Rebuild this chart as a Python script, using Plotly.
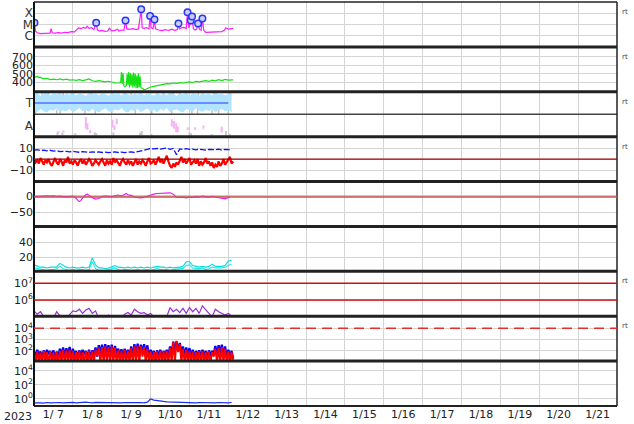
import plotly.graph_objects as go

# ---------------- data ----------------
DAY_LABELS = ["1/ 7", "1/ 8", "1/ 9", "1/10", "1/11", "1/12", "1/13", "1/14",
              "1/15", "1/16", "1/17", "1/18", "1/19", "1/20", "1/21"]
YEAR_LABEL = "2023"

HOURS_2H = list(range(0, 123, 2))   # 62 samples, hours after 1/7 00:00
HOURS_1H = list(range(0, 124))      # 124 samples

# panel 1: X-ray flux (units of 1e-6 W/m2) and flare peaks
xray_hours = [0, 0.3, 0.9, 2, 4, 6, 8, 10, 10.6, 11.2,
              13, 15, 17, 19, 21, 23, 25, 26.5, 27.5, 29,
              30.5, 32, 32.8, 34, 35.5, 37, 38.4, 39.2, 40.5, 42,
              44, 45.5, 46.5, 48, 50, 51.5, 52.5, 54, 55.5, 56.5,
              57.3, 59, 61, 63, 64.5, 66.2, 66.8, 68, 69.5, 71,
              71.7, 72.3, 73.5, 74.4, 75, 77, 79, 81, 83, 85,
              87, 88.5, 89.2, 89.8, 91, 92.5, 94, 94.8, 95.6, 96.8,
              97.6, 98.4, 99.5, 100.5, 101.3, 102.2, 103.2, 104.0, 104.8, 106,
              108, 110, 112, 114, 116, 117.5, 118.5, 120, 122, 123]
xray_flux = [4.0, 14, 2.6, 1.8, 1.5, 1.6, 1.5, 1.7, 4.2, 1.8,
             1.7, 1.9, 1.7, 2.0, 1.9, 2.3, 2.2, 3.6, 5.0, 4.2,
             5.5, 4.6, 7.0, 4.5, 5.2, 3.6, 14, 3.2, 2.6, 3.0,
             2.4, 2.6, 4.5, 2.7, 3.0, 3.8, 2.6, 3.2, 3.0, 22,
             4.0, 3.6, 4.2, 3.5, 4.0, 230, 5.0, 4.5, 5.2, 4.0,
             56, 5.0, 4.2, 28, 4.0, 3.2, 2.8, 3.4, 2.9, 3.8,
             3.0, 3.5, 12, 4.0, 5.0, 5.5, 4.5, 120, 4.8, 22,
             52, 4.2, 3.2, 3.8, 12, 3.6, 3.0, 34, 3.0, 2.0,
             2.1, 2.0, 2.2, 2.1, 2.3, 3.0, 5.0, 3.8, 4.2, 4.5]
flare_hours = [0.3, 38.4, 56.5, 66.2, 71.7, 74.4, 89.2, 94.8, 96.8, 97.6, 101.3, 104.0]
flare_flux = [14, 14, 22, 230, 56, 28, 12, 120, 22, 52, 12, 34]
xray_levels = [1e-4, 1e-5, 1e-6]
xray_classes = ["X", "M", "C"]

# panel 2: solar wind speed (km/s)
sw_hours = [0, 1, 2, 3, 4, 5, 6, 8, 10, 12,
            14, 16, 18, 20, 22, 24, 26, 28, 30, 32,
            34, 36, 38, 40, 42, 44, 46, 48, 50, 52,
            53.5, 54, 54.5, 55, 55.5, 56, 57, 57.5, 58, 58.5,
            59, 59.5, 60, 60.5, 61, 61.5, 62, 62.5, 63, 63.5,
            64, 64.5, 65, 65.5, 66, 67, 68, 69, 70, 72,
            74, 76, 78, 80, 82, 84, 86, 88, 90, 92,
            94, 96, 98, 100, 102, 104, 106, 108, 110, 112,
            114, 116, 118, 120, 122, 123]
sw_speed = [470, 462, 468, 455, 458, 450, 440, 445, 432, 438,
            430, 440, 428, 436, 425, 430, 422, 432, 420, 428,
            440, 418, 412, 420, 410, 404, 412, 400, 395, 392,
            398, 520, 380, 505, 360, 350, 360, 500, 370, 520,
            340, 510, 360, 495, 340, 515, 350, 500, 330, 480,
            330, 505, 345, 470, 335, 330, 310, 318, 330, 345,
            352, 360, 372, 378, 385, 382, 392, 388, 395, 392,
            400, 405, 398, 410, 404, 412, 420, 410, 425, 418,
            430, 420, 435, 425, 432, 428]
sw_ticks = [400, 500, 600, 700]

# panel 3: "T" band (0..1 panel units)
t_hi = [0.85, 0.92, 0.8, 0.9, 0.95, 0.82, 0.9, 0.88, 0.93, 0.8,
        0.9, 0.85, 0.95, 0.82, 0.9, 0.87, 0.8, 0.92, 0.86, 0.9,
        0.83, 0.9, 0.88, 0.8, 0.93, 0.86, 0.9, 0.82, 0.95, 0.88,
        0.8, 0.9, 0.85, 0.93, 0.82, 0.9, 0.87, 0.8, 0.92, 0.85,
        0.9, 0.83, 0.95, 0.88, 0.8, 0.9, 0.86, 0.93, 0.82, 0.9,
        0.88, 0.8, 0.92, 0.85, 0.9, 0.83, 0.95, 0.87, 0.9, 0.82,
        0.9, 0.95]
t_lo = [0.2, 0.12, 0.25, 0.15, 0.1, 0.22, 0.18, 0.28, 0.12, 0.2,
        0.15, 0.25, 0.1, 0.2, 0.3, 0.14, 0.22, 0.12, 0.26, 0.18,
        0.1, 0.2, 0.28, 0.15, 0.12, 0.24, 0.18, 0.3, 0.15, 0.1,
        0.22, 0.16, 0.26, 0.12, 0.2, 0.28, 0.14, 0.22, 0.1, 0.25,
        0.18, 0.3, 0.12, 0.2, 0.24, 0.15, 0.1, 0.26, 0.2, 0.14,
        0.3, 0.18, 0.12, 0.22, 0.16, 0.28, 0.1, 0.2, 0.25, 0.15,
        0.2, 0.12]
t_level_hours = [0, 120]
t_level = [0.5, 0.5]
tg_hours = [1, 5, 9, 14, 16, 18, 31.5, 35.6, 37.8, 48, 56, 60, 62.5,
            72.7, 80, 85, 86, 90, 97.5, 101, 101.5, 110, 111, 114, 120, 121]
tg_lo = [0.0, 0.8, 0.82, 0.0, 0.02, 0.8, 0.0, 0.78, 0.0, 0.0, 0.8, 0.82, 0.0,
         0.0, 0.8, 0.0, 0.8, 0.82, 0.0, 0.0, 0.8, 0.0, 0.78, 0.0, 0.0, 0.8]
tg_hi = [0.25, 1.0, 1.0, 0.2, 0.25, 1.0, 0.22, 1.0, 0.2, 0.25, 1.0, 1.0, 0.2,
         0.22, 1.0, 0.25, 1.0, 1.0, 0.2, 0.25, 1.0, 0.22, 1.0, 0.2, 0.25, 1.0]

# panel 4: "A" marks
a_hours = [15.1, 18.2, 32.0, 33.0, 34.7, 48.5, 49.7, 51.1, 85.1, 86.5,
           87.8, 88.8, 94.9, 99.5, 104.6, 115.9]
a_lo = [0.15, 0.18, 0.35, 0.3, 0.15, 0.4, 0.3, 0.55, 0.45, 0.35,
        0.2, 0.2, 0.3, 0.3, 0.35, 0.18]
a_hi = [0.25, 0.28, 0.88, 0.6, 0.3, 0.75, 0.5, 0.8, 0.78, 0.7,
        0.6, 0.45, 0.42, 0.42, 0.5, 0.45]
ag_hours = [14.5, 17.5, 25.5, 37.5, 38.5, 49, 65.5, 66.5, 72.5, 96, 97, 109.7, 118.5, 121]
ag_lo = [0.05] * 14
ag_hi = [0.2, 0.18, 0.15, 0.2, 0.15, 0.2, 0.18, 0.25, 0.12, 0.18, 0.15, 0.12, 0.25, 0.12]

# panel 5: IMF Bt (2h) and Bz (1h), nT
bt = [8, 8.5, 7.8, 8.2, 7.5, 8, 7.2, 7.6, 6.8, 7.2,
      7, 6.5, 7, 6.6, 6.2, 6.8, 6.4, 6, 6.6, 6.2,
      6.5, 6, 6.4, 5.8, 6.2, 6.6, 6, 6.4, 5.8, 6.2,
      6.5, 6, 6.8, 7.5, 8.5, 9, 9.5, 9.2, 9.6, 9,
      9.4, 10, 8.8, 9.6, 4, 9.2, 8.6, 9.4, 8.8, 9,
      8.4, 9, 8.6, 8.2, 8.8, 8.4, 8.6, 9, 8.2, 8.8,
      8.4, 8.6]
bz = [0, -3, -1, -4, 1, -2, -5, -1, -3, 0,
      -4, -6, -2, 1, -3, -5, 0, -2, -6, -1,
      -3, 2, -4, -2, -5, -1, -3, -6, -2, 0,
      -4, -1, -5, -3, 0, -2, -6, -4, -1, -3,
      -5, -2, 0, -3, -6, -1, -4, -2, -5, 1,
      -3, -1, -4, -6, -2, 0, -3, -5, -1, -4,
      -2, -6, -3, 0, -5, -2, -4, -1, -3, -6,
      -2, 1, -4, -3, -1, -5, -2, 2, -3, 0,
      -4, -1, 3, -2, -6, -8, -4, -7, -3, -5,
      -1, 2, -3, 0, -4, -2, 1, -5, -3, -1,
      -4, 0, -6, -2, -5, -3, 1, -4, -2, -6,
      -3, -8, -5, -7, -2, -6, -4, 0, -5, -3,
      -1, 2, -4, -2]
b_ticks = [10, 0, -10]

# panel 6: magnetometer deviation
dh_hours = [0, 2, 4, 6, 8, 10, 12, 14, 16, 18, 20, 22, 24,
            26, 27, 28, 29, 30, 32, 33, 34,
            36, 38, 40, 42, 44, 46, 48, 50, 52, 54, 56, 57,
            58, 60, 62, 64, 66, 68, 70, 72, 74, 76,
            78, 80, 82, 84, 86, 88, 90, 92, 94, 96,
            98, 100, 102, 104, 106, 108, 110, 112, 114, 116,
            118, 120, 121]
dh_vals = [0, 1, 0, 2, 3, 2, 3, 1, 2, 0, -1, 0, 2,
           -5, -12, -16, -12, -4, 6, 8, 4,
           -4, -8, -6, 0, 2, 1, 0, 3, 5, 2, 8, 10,
           6, 4, -2, -3, -4, -2, 2, 5, 8, 10,
           11, 12, 13, 12, 8, -2, -3, -2, -4, -2,
           -3, 0, -1, 2, 0, -2, 1, -1, -4, -6,
           -7, -3, 0]
dh_ticks = [0, -50]

# panel 7: two cyan series (2h)
cy_hi = [10, 8, 7, 7, 6, 7, 7, 7, 12, 9,
         7, 6, 7, 6, 6, 7, 6, 7, 19, 10,
         6, 6, 5, 6, 8, 9, 7, 6, 6, 7,
         6, 7, 6, 7, 6, 7, 6, 7, 8, 7,
         7, 6, 7, 6, 7, 7, 8, 14, 14, 9,
         8, 7, 8, 7, 8, 11, 8, 8, 8, 9,
         15, 16]
cy_lo = [6, 5, 4, 4, 3, 4, 4, 5, 8, 5,
         4, 3, 4, 3, 4, 4, 3, 4, 14, 5,
         3, 3, 3, 4, 5, 6, 4, 3, 4, 4,
         3, 4, 4, 3, 4, 4, 3, 4, 5, 4,
         4, 4, 3, 4, 4, 5, 5, 9, 10, 6,
         5, 5, 6, 4, 5, 7, 6, 6, 6, 7,
         9, 11]
cy_ticks = [40, 20]

# panel 8: purple series, log10 values (2h)
pu_log = [5.35, 5.15, 5.3, 4.9, 4.7, 4.8, 4.9, 5.3, 5.1, 4.8,
          4.9, 5.1, 5.35, 5.3, 5.45, 5.2, 5.4, 5.5, 5.2, 5.35,
          4.9, 4.8, 4.9, 5.1, 4.9, 4.8, 4.9, 4.95, 5.15, 5.25,
          5.1, 5.45, 5.3, 5.2, 5.25, 5.1, 5.2, 4.95, 4.8, 4.8,
          4.9, 5.0, 5.55, 5.3, 5.45, 5.25, 5.5, 5.2, 5.55, 5.3,
          5.5, 5.2, 5.65, 5.4, 5.2, 5.0, 5.45, 5.3, 5.2, 5.1,
          5.2, 5.05]
pu_lines = [1e7, 1e6]

# panel 9: blue / red flux envelopes, log10 values (2h)
bl_hi = [2.0, 2.1, 1.95, 2.05, 2.1, 2.0, 2.05, 1.95, 2.2, 2.3,
         2.25, 2.35, 2.2, 2.0, 2.05, 2.1, 2.0, 2.1, 2.05, 2.3,
         2.5, 2.55, 2.6, 2.5, 2.55, 2.45, 2.2, 2.15, 2.2, 2.1,
         2.4, 2.6, 2.65, 2.55, 2.6, 2.5, 2.1, 2.0, 2.05, 2.1,
         2.0, 2.1, 2.4, 2.8, 2.85, 2.7, 2.4, 2.3, 2.25, 2.1,
         2.0, 2.05, 2.1, 2.0, 2.05, 2.0, 2.45, 2.5, 2.55, 2.4,
         2.1, 2.0]
bl_lo = [1.4, 1.6, 1.3, 1.5, 1.7, 1.4, 1.2, 1.5, 1.6, 1.4,
         1.5, 1.3, 1.6, 1.4, 1.5, 1.7, 1.4, 1.3, 1.6, 1.5,
         1.7, 1.5, 1.8, 1.6, 1.4, 1.7, 1.5, 1.3, 1.6, 1.4,
         1.5, 1.7, 1.6, 1.8, 1.5, 1.4, 1.6, 1.3, 1.5, 1.4,
         1.6, 1.5, 1.7, 1.9, 2.0, 1.8, 1.5, 1.6, 1.4, 1.3,
         1.5, 1.4, 1.6, 1.3, 1.5, 1.7, 1.6, 1.8, 1.5, 1.4,
         1.5, 1.3]
rd_hi = [1.9, 1.95, 1.85, 2.0, 1.9, 1.95, 1.85, 1.9, 2.0, 2.1,
         2.05, 2.1, 2.0, 1.9, 1.95, 1.9, 1.95, 2.0, 1.95, 2.1,
         2.3, 2.35, 2.4, 2.35, 2.4, 2.3, 2.05, 2.0, 2.1, 2.0,
         2.25, 2.4, 2.45, 2.4, 2.35, 2.2, 1.95, 1.9, 1.95, 2.0,
         1.95, 2.0, 2.3, 2.85, 2.9, 2.6, 2.2, 2.1, 2.0, 1.95,
         1.9, 1.95, 2.0, 1.9, 1.95, 1.9, 2.2, 2.3, 2.35, 2.2,
         1.95, 1.9]
rd_lo = [1.0, 1.0, 1.05, 1.0, 1.0, 1.0, 1.0, 1.0, 1.0, 1.0,
         1.0, 1.0, 1.0, 1.0, 1.0, 1.0, 1.0, 1.0, 1.0, 1.55,
         1.0, 1.0, 1.0, 1.0, 1.0, 1.0, 1.0, 1.0, 1.0, 1.0,
         1.0, 1.0, 1.0, 1.5, 1.0, 1.0, 1.0, 1.0, 1.0, 1.0,
         1.0, 1.0, 1.0, 1.0, 1.9, 1.0, 1.0, 1.0, 1.0, 1.0,
         1.0, 1.0, 1.0, 1.0, 1.0, 1.5, 1.0, 1.0, 1.0, 1.0,
         1.0, 1.0]
p9_threshold = 1e4
p9_ticks = [1e4, 1e3, 1e2]

# panel 10: electron-like series, log10 values (2h)
el_log = [-0.55, -0.5, -0.55, -0.6, -0.5, -0.55, -0.52, -0.58, -0.5, -0.55,
          -0.5, -0.55, -0.48, -0.55, -0.5, -0.52, -0.45, -0.5, -0.55, -0.48,
          -0.5, -0.45, -0.5, -0.55, -0.48, -0.5, -0.52, -0.55, -0.5, -0.52,
          -0.55, -0.5, -0.52, -0.5, -0.55, -0.45, 0.0, -0.15, -0.25, -0.3,
          -0.35, -0.4, -0.42, -0.45, -0.5, -0.48, -0.5, -0.55, -0.52, -0.5,
          -0.55, -0.5, -0.52, -0.55, -0.5, -0.52, -0.55, -0.5, -0.55, -0.52,
          -0.55, -0.5]
p10_ticks = [1e4, 1e2, 1e0]

RT_PANELS = [1, 2, 3, 5, 8, 9]

# ---------------- figure ----------------
W, H = 634, 424
ML, MR, MT, MB = 34, 17, 2, 18
PH = H - MT - MB
U = 1 / 9
domains = {1: (8 * U, 1), 2: (7 * U, 8 * U), 3: (6.5 * U, 7 * U), 4: (6 * U, 6.5 * U),
           5: (5 * U, 6 * U), 6: (4 * U, 5 * U), 7: (3 * U, 4 * U), 8: (2 * U, 3 * U),
           9: (1 * U, 2 * U), 10: (0, 1 * U)}
GRID = "#d4d4d4"
FONT = "DejaVu Sans"


def axn(k):
    return ("x" if k == 1 else f"x{k}"), ("y" if k == 1 else f"y{k}")


def d(hours):
    return [h / 24 for h in hours]


fig = go.Figure()


def line(k, x, y, color, width=1.2, **kw):
    xa, ya = axn(k)
    fig.add_trace(go.Scatter(x=x, y=y, mode="lines", xaxis=xa, yaxis=ya,
                             line=dict(color=color, width=width), hoverinfo="skip", **kw))


def segments(hours, lo, hi):
    xs, ys = [], []
    for h, a, b in zip(hours, lo, hi):
        xs += [h / 24, h / 24, None]
        ys += [a, b, None]
    return xs, ys


def zigzag(hours, hi, lo):
    xs, ys = [], []
    for h, a, b in zip(hours, hi, lo):
        xs += [h / 24, (h + 1) / 24]
        ys += [10 ** a, 10 ** b]
    return xs, ys


# panel 1
line(1, d(xray_hours), [v * 1e-6 for v in xray_flux], "#ff1cff", 1.2)
xa, ya = axn(1)
fig.add_trace(go.Scatter(x=d(flare_hours), y=[v * 1e-6 for v in flare_flux], mode="markers",
                         xaxis=xa, yaxis=ya, hoverinfo="skip",
                         marker=dict(size=6.5, color="#c8ccff", line=dict(color="#2a36f0", width=1.5))))
# panel 2
line(2, d(sw_hours), sw_speed, "#14e014", 1.2)
# panel 3
gx, gy = segments(tg_hours, tg_lo, tg_hi)
line(3, gx, gy, "#c4c4c4", 1.5)
line(3, d(HOURS_2H), t_lo, "#b2e4ff", 1)
line(3, d(HOURS_2H), t_hi, "#b2e4ff", 1, fill="tonexty", fillcolor="#b2e4ff")
line(3, d(t_level_hours), t_level, "#5a6cff", 1.5)
# panel 4
gx, gy = segments(ag_hours, ag_lo, ag_hi)
line(4, gx, gy, "#c8c8c8", 2)
px_, py_ = segments(a_hours, a_lo, a_hi)
line(4, px_, py_, "#f4b4f4", 2)
# panel 5
line(5, d(HOURS_1H), bz, "#ff0000", 2.2)
xa, ya = axn(5)
fig.add_trace(go.Scatter(x=d(HOURS_2H), y=bt, mode="lines", xaxis=xa, yaxis=ya, hoverinfo="skip",
                         line=dict(color="#1010ff", width=1.3, dash="6px,2px")))
# panel 6
line(6, d(dh_hours), dh_vals, "#e020e0", 1.1)
# panel 7
line(7, d(HOURS_2H), cy_lo, "#22e8e8", 1.1)
line(7, d(HOURS_2H), cy_hi, "#00dddd", 1.1)
# panel 8
line(8, d(HOURS_2H), [10 ** v for v in pu_log], "#9a30d0", 1.2)
# panel 9
zx, zy = zigzag(HOURS_2H, bl_hi, bl_lo)
line(9, zx, zy, "#0000ff", 2.3)
zx, zy = zigzag(HOURS_2H, rd_hi, rd_lo)
line(9, zx, zy, "#ff0000", 1.9)
# panel 10
line(10, d(HOURS_2H), [10 ** v for v in el_log], "#1a2ef0", 1.2)

# axes
yspec = {
    1: dict(type="log", range=[-7, -3], tickvals=xray_levels, ticktext=xray_classes,
            tickfont=dict(size=12)),
    2: dict(range=[289, 815], tickvals=sw_ticks),
    3: dict(range=[0, 1], tickvals=[0.5], ticktext=["T"], showgrid=False, tickfont=dict(size=12)),
    4: dict(range=[0, 1], tickvals=[0.5], ticktext=["A"], showgrid=False, tickfont=dict(size=12)),
    5: dict(range=[-20.3, 20.3], tickvals=b_ticks, ticktext=["10", "0", "\u221210"]),
    6: dict(range=[-95, 48], tickvals=dh_ticks, ticktext=["0", "\u221250"]),
    7: dict(range=[1.5, 60.5], tickvals=cy_ticks),
    8: dict(type="log", range=[5.03, 7.72], tickvals=pu_lines,
            ticktext=["10<sup>7</sup>", "10<sup>6</sup>"]),
    9: dict(type="log", range=[1.1, 5.07], tickvals=p9_ticks,
            ticktext=["10<sup>4</sup>", "10<sup>3</sup>", "10<sup>2</sup>"]),
    10: dict(type="log", range=[-1, 5.4], tickvals=p10_ticks,
             ticktext=["10<sup>4</sup>", "10<sup>2</sup>", "10<sup>0</sup>"]),
}

layout = dict(width=W, height=H,
              margin=dict(l=ML, r=MR, t=MT, b=MB, autoexpand=False),
              paper_bgcolor="white", plot_bgcolor="white", showlegend=False,
              font=dict(family=FONT, size=11, color="#333"))
for k in range(1, 11):
    xa, ya = axn(k)
    xkey = "xaxis" if k == 1 else f"xaxis{k}"
    ykey = "yaxis" if k == 1 else f"yaxis{k}"
    xd = dict(domain=[0, 1], range=[0, 15], anchor=ya, showgrid=False, zeroline=False,
              showline=False, ticks="", tickmode="array", automargin=False,
              tickvals=[i + 0.5 for i in range(15)], ticktext=DAY_LABELS,
              showticklabels=(k == 10), tickfont=dict(size=11, color="#222"),
              minor=dict(tickmode="linear", tick0=0, dtick=1, showgrid=True,
                         gridcolor=GRID, gridwidth=1, ticks=""),
              fixedrange=True)
    if k > 1:
        xd["matches"] = "x"
    layout[xkey] = xd
    yd = dict(domain=list(domains[k]), anchor=xa, showgrid=True, gridcolor=GRID, gridwidth=1,
              zeroline=False, showline=False, ticks="", tickmode="array", automargin=False,
              tickfont=dict(size=11, color="#222"), fixedrange=True)
    yd.update(yspec[k])
    layout[ykey] = yd

shapes = []
for b in [8 * U, 7 * U, 6 * U, 5 * U, 4 * U, 3 * U, 2 * U, 1 * U]:
    shapes.append(dict(type="line", xref="paper", yref="paper", x0=0, x1=1, y0=b, y1=b,
                       line=dict(color="#222", width=3)))
shapes.append(dict(type="line", xref="paper", yref="paper", x0=0, x1=1, y0=6.5 * U, y1=6.5 * U,
                   line=dict(color="#444", width=1.5)))
shapes.append(dict(type="line", xref="paper", yref="paper", x0=0, x1=1, y0=1, y1=1,
                   line=dict(color="#222", width=1.5)))
shapes.append(dict(type="line", xref="paper", yref="paper", x0=0, x1=1, y0=0, y1=0,
                   line=dict(color="#222", width=2)))
shapes.append(dict(type="line", xref="paper", yref="paper", x0=0, x1=0, y0=0, y1=1,
                   line=dict(color="#111", width=2)))
shapes.append(dict(type="line", xref="paper", yref="paper", x0=1, x1=1, y0=0, y1=1,
                   line=dict(color="#222", width=1.5)))
# reference levels
shapes.append(dict(type="line", xref="paper", yref="y5", x0=0, x1=1, y0=0, y1=0,
                   line=dict(color="#a00000", width=1.2)))
shapes.append(dict(type="line", xref="paper", yref="y6", x0=0, x1=1, y0=0, y1=0,
                   line=dict(color="rgba(205,80,80,0.75)", width=2.5)))
for lv in pu_lines:
    shapes.append(dict(type="line", xref="paper", yref="y8", x0=0, x1=1, y0=lv, y1=lv,
                       line=dict(color="#cc1010", width=1.5)))
shapes.append(dict(type="line", xref="paper", yref="y9", x0=0, x1=1, y0=p9_threshold, y1=p9_threshold,
                   line=dict(color="#e03030", width=1.5, dash="10px,6px")))
layout["shapes"] = shapes

ann = [dict(text=YEAR_LABEL, xref="paper", yref="paper", x=(18 - ML) / (W - ML - MR),
            y=-(416 - MT - PH) / PH, xanchor="center", yanchor="middle", showarrow=False,
            font=dict(size=11, color="#222"))]
for k in RT_PANELS:
    top = domains[k][1]
    ann.append(dict(text="rt", xref="paper", yref="paper", x=1, xshift=3, y=top - 10 / PH,
                    xanchor="left", yanchor="middle", showarrow=False,
                    font=dict(size=7, color="#444")))
layout["annotations"] = ann

fig.update_layout(**layout)
fig.write_html("out.html", config={"displayModeBar": False, "staticPlot": True},
               post_script="document.body.style.margin='0';document.body.style.padding='0';"
                           "document.body.style.overflow='hidden';")
